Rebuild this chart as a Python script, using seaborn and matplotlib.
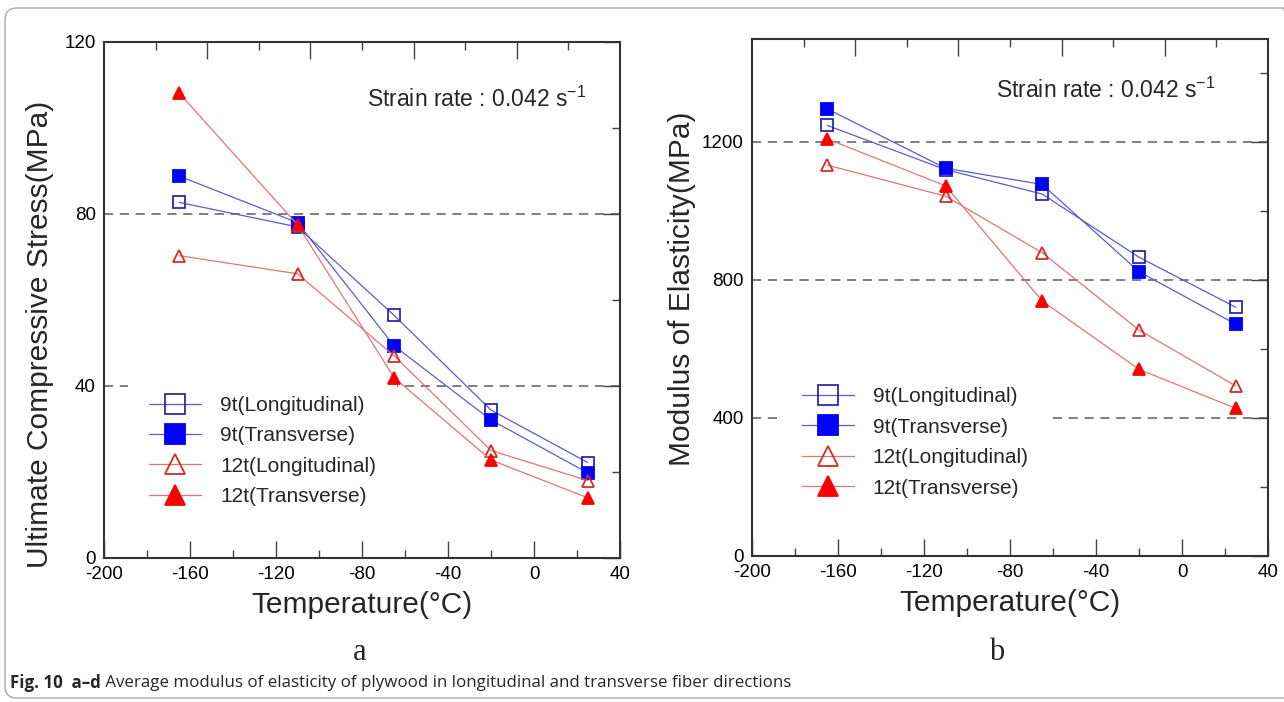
import matplotlib
matplotlib.use("Agg")
import matplotlib.pyplot as plt
import seaborn as sns
import pandas as pd
from matplotlib.patches import FancyBboxPatch

# ---------------- data ----------------
temperature = [-165, -110, -65, -20, 25]
series_labels = ["9t(Longitudinal)", "9t(Transverse)", "12t(Longitudinal)", "12t(Transverse)"]

ucs_9t_long = [82.7, 77.0, 56.4, 34.4, 22.2]
ucs_9t_trans = [88.8, 78.0, 49.3, 32.1, 19.8]
ucs_12t_long = [70.3, 66.1, 47.0, 25.0, 18.0]
ucs_12t_trans = [108.1, 77.5, 41.9, 22.8, 14.0]

moe_9t_long = [1248, 1120, 1049, 866, 721]
moe_9t_trans = [1296, 1124, 1077, 824, 672]
moe_12t_long = [1133, 1043, 879, 655, 493]
moe_12t_trans = [1209, 1073, 739, 541, 428]

strain_text = "Strain rate : 0.042 s$^{\\mathregular{-1}}$"
xlabel = "Temperature(\u00b0C)"
ylabel_a = "Ultimate Compressive Stress(MPa)"
ylabel_b = "Modulus of Elasticity(MPa)"
caption_bold = "Fig. 10  a\u2013d"
caption_rest = " Average modulus of elasticity of plywood in longitudinal and transverse fiber directions"

# ---------------- style ----------------
sns.set_theme(style="white")
plt.rcParams["font.family"] = ["Liberation Sans", "DejaVu Sans"]
plt.rcParams["mathtext.fontset"] = "custom"
plt.rcParams["mathtext.rm"] = "Liberation Sans"
plt.rcParams["mathtext.it"] = "Liberation Sans:italic"
plt.rcParams["mathtext.bf"] = "Liberation Sans:bold"
plt.rcParams["axes.unicode_minus"] = False

W, H = 1284, 702
fig = plt.figure(figsize=(W / 100, H / 100), dpi=100)
fig.patch.set_facecolor("white")


def rect(l, t, w, h):
    return [l / W, (H - t - h) / H, w / W, h / H]


axL = fig.add_axes(rect(104, 42, 516, 516))
axR = fig.add_axes(rect(752, 38.5, 516, 517.5))

styles = [
    dict(marker="s", markersize=9, mfc="none", mec="#2b2ba8", color="#5c5cc8"),
    dict(marker="s", markersize=9, mfc="#0000ff", mec="#0000ff", color="#5c5cc8"),
    dict(marker="^", markersize=9, mfc="none", mec="#d42a2a", color="#e27474"),
    dict(marker="^", markersize=9, mfc="#ff0000", mec="#ff0000", color="#e27474"),
]


def draw(ax, series, ylim, major, minor, ylab, label_xy, legend_anchor, text_xy):
    for lab, vals, st in zip(series_labels, series, styles):
        df = pd.DataFrame({"T": temperature, "v": vals})
        sns.lineplot(data=df, x="T", y="v", ax=ax, label=lab, errorbar=None,
                     lw=0.9, mew=1.3, zorder=3, **st)
    ax.set_xlim(-200, 40)
    ax.set_ylim(*ylim)
    ax.set_xticks(range(-200, 41, 40))
    ax.set_xticks(range(-180, 41, 40), minor=True)
    ax.set_yticks(major)
    ax.set_yticks(minor, minor=True)
    ax.grid(False)
    ax.grid(axis="y", which="major", color="#6a6a6a", lw=1.2, ls=(0, (5.5, 4)))
    ax.set_axisbelow(True)
    for s in ax.spines.values():
        s.set_color("#333333")
        s.set_linewidth(1.5)
    ax.tick_params(which="both", direction="in", top=False, right=True,
                   colors="#444444", labelcolor="black", labelsize=13.5, pad=6)
    ax.tick_params(which="major", length=12, width=1.0)
    ax.tick_params(which="minor", length=6, width=1.0)
    ax.set_xlabel(xlabel, fontsize=21.5)
    ax.set_ylabel(ylab, fontsize=21.5)
    ax.xaxis.label.set_va("center")
    ax.xaxis.set_label_coords(0.5, -0.091)
    ax.yaxis.label.set_va("center")
    ax.yaxis.set_label_coords(*label_xy)
    leg = ax.legend(loc="center left", bbox_to_anchor=legend_anchor, borderaxespad=0,
                    fontsize=15, markerscale=1.6, frameon=True, fancybox=False,
                    borderpad=1.0, labelspacing=0.55, handlelength=2.5,
                    handletextpad=0.9)
    leg.get_frame().set_edgecolor("none")
    leg.get_frame().set_facecolor("white")
    leg.get_frame().set_alpha(1)
    leg.set_zorder(2.5)
    # top axis ticks (10 divisions)
    axT = ax.twiny()
    axT.set_xlim(0, 10)
    axT.set_xticks([2, 4, 6, 8])
    axT.set_xticks([1, 3, 5, 7, 9], minor=True)
    axT.grid(False)
    axT.tick_params(which="both", direction="in", top=True, bottom=False,
                    labeltop=False, labelbottom=False, colors="#444444")
    axT.tick_params(which="major", length=12, width=1.0)
    axT.tick_params(which="minor", length=6, width=1.0)
    for s in axT.spines.values():
        s.set_visible(False)
    fig.text(text_xy[0] / W, 1 - text_xy[1] / H, strain_text, fontsize=16.5,
             ha="left", va="baseline")


draw(axL, [ucs_9t_long, ucs_9t_trans, ucs_12t_long, ucs_12t_trans],
     (0, 120), [0, 40, 80, 120], [20, 60, 100], ylabel_a,
     (-0.124, 0.434), (0.047, 0.2074), (367, 106.7))
draw(axR, [moe_9t_long, moe_9t_trans, moe_12t_long, moe_12t_trans],
     (0, 1500), [0, 400, 800, 1200], [200, 600, 1000, 1400], ylabel_b,
     (-0.1357, 0.516), (0.056, 0.2193), (995.5, 98.3))

# panel letters
fig.text(360 / W, 1 - 652 / H, "a", family=["Liberation Serif", "DejaVu Serif"],
         fontsize=22, ha="center", va="center")
fig.text(997 / W, 1 - 652 / H, "b", family=["Liberation Serif", "DejaVu Serif"],
         fontsize=22, ha="center", va="center")

# caption
fig.canvas.draw()
r = fig.canvas.get_renderer()
t1 = fig.text(10 / W, 1 - 683 / H, caption_bold, fontsize=12.2, fontweight="bold",
              family=["Open Sans", "DejaVu Sans"], ha="left", va="center")
bb = t1.get_window_extent(r)
fig.text(bb.x1 / W, 1 - 683 / H, caption_rest, fontsize=12.2,
         family=["Open Sans", "DejaVu Sans"], ha="left", va="center")

# rounded frame
frame = FancyBboxPatch((0.05, 0.04), 12.9, 6.9, boxstyle="round,pad=0,rounding_size=0.12",
                       transform=fig.dpi_scale_trans, fill=False, edgecolor="#a8a8a8",
                       lw=1.0, clip_on=False)
fig.patches.append(frame)

fig.savefig("out.png", dpi=100)
